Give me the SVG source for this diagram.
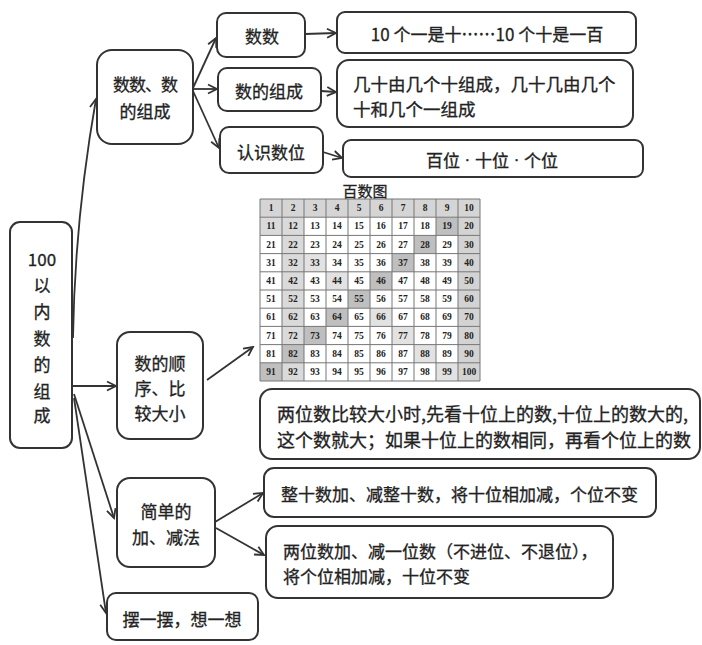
<svg xmlns="http://www.w3.org/2000/svg" width="702" height="645" viewBox="0 0 702 645">
<style>
.box{fill:#fff;stroke:#333;stroke-width:2}
.t{font-family:"Noto Sans CJK SC","Noto Sans",sans-serif;fill:#222;font-size:17px;stroke:#222;stroke-width:0.3}
.c{text-anchor:middle;dominant-baseline:central}
.l{dominant-baseline:central}
.conn{stroke:#333;stroke-width:1.8;fill:none;marker-end:url(#arr)}
.n{font-family:"Liberation Serif",serif;font-weight:bold;font-size:9.5px;fill:#222;text-anchor:middle;dominant-baseline:central}
.grid{stroke:#777;stroke-width:1;fill:none}
.dot{font-family:"Liberation Sans",sans-serif}
</style>
<defs>
<marker id="arr" markerUnits="userSpaceOnUse" markerWidth="12" markerHeight="12" refX="10" refY="5" orient="auto" viewBox="0 0 12 10">
<path d="M1,0.5 L10,5 L1,9.5" fill="none" stroke="#333" stroke-width="1.8"/>
</marker>
</defs>
<rect width="702" height="645" fill="#fff"/>
<g id="connectors">
<path class="conn" d="M73,338 C74,270 80,190 96,99"/>
<path class="conn" d="M73,386 L116,386"/>
<path class="conn" d="M74,394 L114,518"/>
<path class="conn" d="M74,398 L106,613"/>
<path class="conn" d="M193,88 L216,38"/>
<path class="conn" d="M193,89 L217,89"/>
<path class="conn" d="M193,91 L219,148"/>
<path class="conn" d="M305,34 L336,33"/>
<path class="conn" d="M321,91 L336,92"/>
<path class="conn" d="M323,152 L342,158"/>
<path class="conn" d="M207,380 L253,347"/>
<path class="conn" d="M215,522 L263,493"/>
<path class="conn" d="M216,528 L264,555"/>
</g>
<g id="root">
<rect class="box" x="10" y="222" width="62" height="226" rx="10"/>
<text class="t c" x="42" y="258">100</text>
<text class="t c" x="42" y="284">以</text>
<text class="t c" x="42" y="310">内</text>
<text class="t c" x="42" y="337">数</text>
<text class="t c" x="42" y="363">的</text>
<text class="t c" x="42" y="390">组</text>
<text class="t c" x="42" y="414">成</text>
</g>
<g id="n1">
<rect class="box" x="97" y="50" width="96" height="94" rx="15"/>
<text class="t c" x="145" y="83" letter-spacing="-1">数数、数</text>
<text class="t c" x="145" y="110">的组成</text>
</g>
<g id="n-shushu">
<rect class="box" x="217" y="13" width="88" height="44" rx="9"/>
<text class="t c" x="262" y="35">数数</text>
</g>
<g id="n-zucheng">
<rect class="box" x="218" y="68" width="103" height="43" rx="9"/>
<text class="t c" x="269" y="90">数的组成</text>
</g>
<g id="n-shuwei">
<rect class="box" x="220" y="127" width="103" height="46" rx="9"/>
<text class="t c" x="271" y="151">认识数位</text>
</g>
<g id="d1">
<rect class="box" x="337" y="12" width="299" height="41" rx="8"/>
<text class="t c" x="487" y="33">10 个一是十……10 个十是一百</text>
</g>
<g id="d2">
<rect class="box" x="337" y="60" width="296" height="67" rx="12"/>
<text class="t l" x="353" y="83" style="font-size:17.5px">几十由几个十组成，几十几由几个</text>
<text class="t l" x="353" y="108" style="font-size:17.5px">十和几个一组成</text>
</g>
<g id="d3">
<rect class="box" x="343" y="140" width="300" height="37" rx="8"/>
<text class="t c" x="492" y="159">百位<tspan class="dot"> · </tspan>十位<tspan class="dot"> · </tspan>个位</text>
</g>
<g id="chart">
<text class="t c" x="365" y="190" style="font-size:15px">百数图</text>
<rect x="260" y="199" width="220" height="18.2" fill="#d5d5d5"/>
<rect x="458" y="217.2" width="22" height="163.8" fill="#d3d3d3"/>
<rect x="282" y="217.2" width="22" height="163.8" fill="#dadada"/>
<rect x="260" y="217.2" width="22" height="18.2" fill="#dadada"/>
<g fill="#bfbfbf">
<rect x="436" y="217.2" width="22" height="18.2"/>
<rect x="414" y="235.4" width="22" height="18.2"/>
<rect x="392" y="253.6" width="22" height="18.2"/>
<rect x="370" y="271.8" width="22" height="18.2"/>
<rect x="348" y="290" width="22" height="18.2"/>
<rect x="326" y="308.2" width="22" height="18.2"/>
<rect x="304" y="326.4" width="22" height="18.2"/>
<rect x="282" y="344.6" width="22" height="18.2"/>
<rect x="260" y="362.8" width="22" height="18.2"/>
</g>
<g fill="#e2e2e2">
<rect x="304" y="253.6" width="22" height="18.2"/>
<rect x="326" y="271.8" width="22" height="18.2"/>
<rect x="370" y="308.2" width="22" height="18.2"/>
<rect x="392" y="326.4" width="22" height="18.2"/>
<rect x="414" y="344.6" width="22" height="18.2"/>
<rect x="436" y="362.8" width="22" height="18.2"/>
</g>
<path class="grid" d="M260,199V381M282,199V381M304,199V381M326,199V381M348,199V381M370,199V381M392,199V381M414,199V381M436,199V381M458,199V381M480,199V381M260,199H480M260,217.2H480M260,235.4H480M260,253.6H480M260,271.8H480M260,290H480M260,308.2H480M260,326.4H480M260,344.6H480M260,362.8H480M260,381H480"/>
<text class="n" x="271" y="208.1">1</text><text class="n" x="293" y="208.1">2</text><text class="n" x="315" y="208.1">3</text><text class="n" x="337" y="208.1">4</text><text class="n" x="359" y="208.1">5</text><text class="n" x="381" y="208.1">6</text><text class="n" x="403" y="208.1">7</text><text class="n" x="425" y="208.1">8</text><text class="n" x="447" y="208.1">9</text><text class="n" x="469" y="208.1">10</text>
<text class="n" x="271" y="226.3">11</text><text class="n" x="293" y="226.3">12</text><text class="n" x="315" y="226.3">13</text><text class="n" x="337" y="226.3">14</text><text class="n" x="359" y="226.3">15</text><text class="n" x="381" y="226.3">16</text><text class="n" x="403" y="226.3">17</text><text class="n" x="425" y="226.3">18</text><text class="n" x="447" y="226.3">19</text><text class="n" x="469" y="226.3">20</text>
<text class="n" x="271" y="244.5">21</text><text class="n" x="293" y="244.5">22</text><text class="n" x="315" y="244.5">23</text><text class="n" x="337" y="244.5">24</text><text class="n" x="359" y="244.5">25</text><text class="n" x="381" y="244.5">26</text><text class="n" x="403" y="244.5">27</text><text class="n" x="425" y="244.5">28</text><text class="n" x="447" y="244.5">29</text><text class="n" x="469" y="244.5">30</text>
<text class="n" x="271" y="262.7">31</text><text class="n" x="293" y="262.7">32</text><text class="n" x="315" y="262.7">33</text><text class="n" x="337" y="262.7">34</text><text class="n" x="359" y="262.7">35</text><text class="n" x="381" y="262.7">36</text><text class="n" x="403" y="262.7">37</text><text class="n" x="425" y="262.7">38</text><text class="n" x="447" y="262.7">39</text><text class="n" x="469" y="262.7">40</text>
<text class="n" x="271" y="280.9">41</text><text class="n" x="293" y="280.9">42</text><text class="n" x="315" y="280.9">43</text><text class="n" x="337" y="280.9">44</text><text class="n" x="359" y="280.9">45</text><text class="n" x="381" y="280.9">46</text><text class="n" x="403" y="280.9">47</text><text class="n" x="425" y="280.9">48</text><text class="n" x="447" y="280.9">49</text><text class="n" x="469" y="280.9">50</text>
<text class="n" x="271" y="299.1">51</text><text class="n" x="293" y="299.1">52</text><text class="n" x="315" y="299.1">53</text><text class="n" x="337" y="299.1">54</text><text class="n" x="359" y="299.1">55</text><text class="n" x="381" y="299.1">56</text><text class="n" x="403" y="299.1">57</text><text class="n" x="425" y="299.1">58</text><text class="n" x="447" y="299.1">59</text><text class="n" x="469" y="299.1">60</text>
<text class="n" x="271" y="317.3">61</text><text class="n" x="293" y="317.3">62</text><text class="n" x="315" y="317.3">63</text><text class="n" x="337" y="317.3">64</text><text class="n" x="359" y="317.3">65</text><text class="n" x="381" y="317.3">66</text><text class="n" x="403" y="317.3">67</text><text class="n" x="425" y="317.3">68</text><text class="n" x="447" y="317.3">69</text><text class="n" x="469" y="317.3">70</text>
<text class="n" x="271" y="335.5">71</text><text class="n" x="293" y="335.5">72</text><text class="n" x="315" y="335.5">73</text><text class="n" x="337" y="335.5">74</text><text class="n" x="359" y="335.5">75</text><text class="n" x="381" y="335.5">76</text><text class="n" x="403" y="335.5">77</text><text class="n" x="425" y="335.5">78</text><text class="n" x="447" y="335.5">79</text><text class="n" x="469" y="335.5">80</text>
<text class="n" x="271" y="353.7">81</text><text class="n" x="293" y="353.7">82</text><text class="n" x="315" y="353.7">83</text><text class="n" x="337" y="353.7">84</text><text class="n" x="359" y="353.7">85</text><text class="n" x="381" y="353.7">86</text><text class="n" x="403" y="353.7">87</text><text class="n" x="425" y="353.7">88</text><text class="n" x="447" y="353.7">89</text><text class="n" x="469" y="353.7">90</text>
<text class="n" x="271" y="371.9">91</text><text class="n" x="293" y="371.9">92</text><text class="n" x="315" y="371.9">93</text><text class="n" x="337" y="371.9">94</text><text class="n" x="359" y="371.9">95</text><text class="n" x="381" y="371.9">96</text><text class="n" x="403" y="371.9">97</text><text class="n" x="425" y="371.9">98</text><text class="n" x="447" y="371.9">99</text><text class="n" x="469" y="371.9">100</text>
</g>
<g id="n-order">
<rect class="box" x="117" y="332" width="86" height="107" rx="13"/>
<text class="t c" x="160" y="362">数的顺</text>
<text class="t c" x="160" y="387">序、比</text>
<text class="t c" x="160" y="412">较大小</text>
</g>
<g id="d4">
<rect class="box" x="260" y="389" width="440" height="70" rx="12"/>
<text class="t l" x="277" y="413" style="font-size:18px">两位数比较大小时,先看十位上的数,十位上的数大的,</text>
<text class="t l" x="277" y="439" style="font-size:18px">这个数就大；如果十位上的数相同，再看个位上的数</text>
</g>
<g id="n-add">
<rect class="box" x="117" y="478" width="98" height="89" rx="13"/>
<text class="t c" x="166" y="510">简单的</text>
<text class="t c" x="166" y="536">加、减法</text>
</g>
<g id="d5">
<rect class="box" x="264" y="468" width="392" height="49" rx="10"/>
<text class="t l" x="281" y="493">整十数加、减整十数，将十位相加减，个位不变</text>
</g>
<g id="d6">
<rect class="box" x="266" y="526" width="347" height="72" rx="12"/>
<text class="t l" x="283" y="550">两位数加、减一位数（不进位、不退位），</text>
<text class="t l" x="283" y="575">将个位相加减，十位不变</text>
</g>
<g id="n-bai">
<rect class="box" x="107" y="593" width="151" height="47" rx="9"/>
<text class="t c" x="182" y="618">摆一摆，想一想</text>
</g>
</svg>
